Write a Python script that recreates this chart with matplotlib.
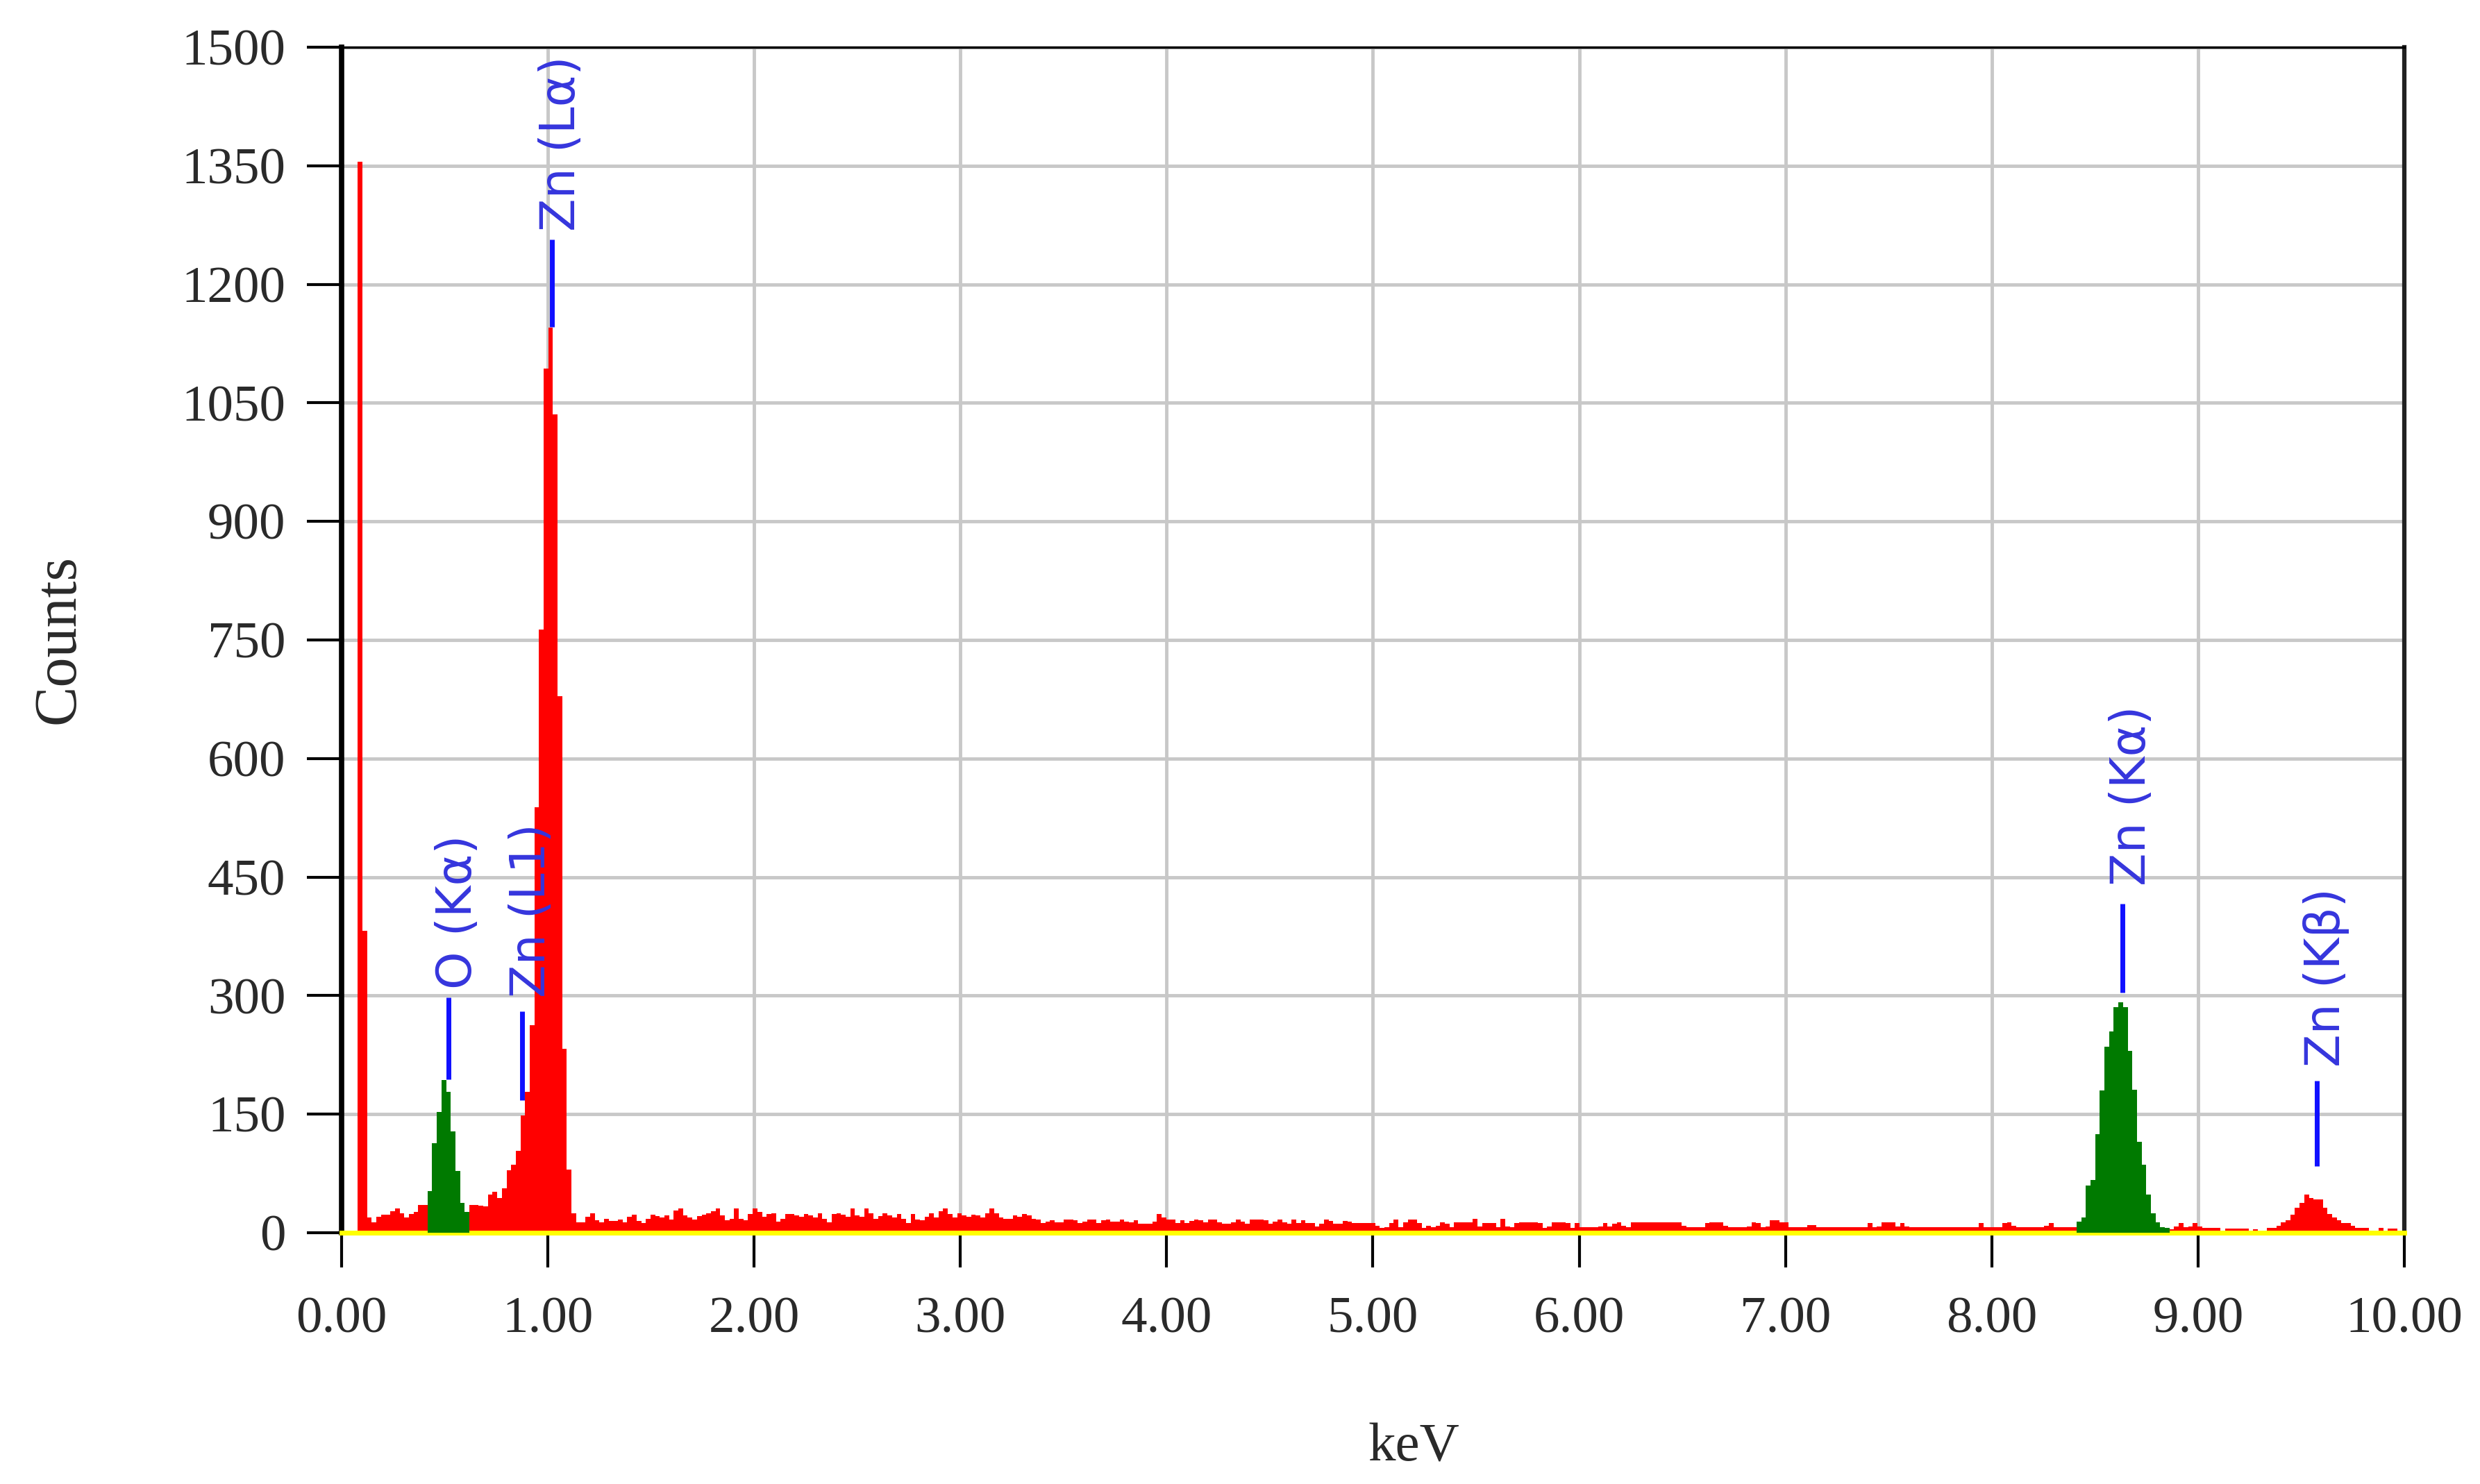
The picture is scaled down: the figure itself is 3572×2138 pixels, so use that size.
import numpy as np
import matplotlib
matplotlib.use("Agg")
import matplotlib.pyplot as plt
from matplotlib.transforms import ScaledTranslation

# ---------------- data ----------------
channel_width_keV = 0.02252          # energy width of one spectrum channel

# counts per channel, 0 - 1.7 keV
counts_0_to_1p7 = [0, 0, 0, 1355, 382, 19, 13, 20, 23, 23,
                   27, 31, 25, 19, 24, 26, 35, 35, 53, 113,
                   153, 193, 178, 128, 78, 38, 26, 35, 35, 34,
                   33, 48, 52, 44, 56, 79, 86, 104, 148, 178,
                   263, 538, 763, 1093, 1145, 1035, 679, 233, 80, 25,
                   13, 13, 20, 25, 16, 13, 18, 15, 15, 17,
                   13, 20, 23, 15, 12, 18, 23, 21, 19, 22,
                   17, 28, 31, 22, 19, 17]
# 1.7 - 3.45 keV
counts_1p7_to_3p45 = [21, 23, 25, 27, 31, 22, 16, 18, 31, 18,
                      16, 24, 31, 26, 20, 24, 25, 14, 18, 24,
                      24, 22, 20, 24, 22, 19, 25, 18, 13, 24,
                      25, 23, 20, 31, 22, 20, 31, 25, 18, 21,
                      25, 22, 19, 24, 18, 12, 24, 17, 16, 20,
                      25, 19, 27, 31, 24, 19, 25, 22, 20, 23,
                      22, 19, 25, 31, 25, 19, 18, 18, 22, 20,
                      24, 22, 18, 17, 12, 14, 16]
# 3.45 - 5.2 keV
counts_3p45_to_5p2 = [13, 13, 17, 17, 16, 12, 14, 17, 17, 12,
                      16, 17, 14, 14, 17, 14, 13, 16, 11, 11,
                      11, 14, 24, 19, 17, 17, 12, 16, 12, 15,
                      17, 16, 13, 17, 17, 13, 11, 11, 13, 17,
                      14, 11, 17, 17, 17, 16, 11, 14, 17, 13,
                      11, 17, 12, 16, 12, 12, 8, 11, 17, 15,
                      11, 11, 15, 14, 12, 12, 12, 12, 12, 9,
                      6, 7, 12, 17, 7, 13, 17, 17]
# 5.2 - 6.95 keV
counts_5p2_to_6p95 = [12, 6, 9, 7, 9, 13, 11, 7, 13, 13,
                      13, 13, 18, 8, 12, 12, 12, 7, 18, 8,
                      7, 12, 13, 13, 13, 13, 12, 6, 8, 13,
                      13, 13, 12, 6, 12, 7, 7, 7, 7, 8,
                      12, 8, 11, 13, 9, 7, 13, 13, 13, 13,
                      13, 13, 13, 13, 13, 13, 13, 9, 7, 7,
                      7, 7, 12, 13, 13, 13, 9, 7, 7, 7,
                      7, 8, 13, 12, 7, 8, 16, 16]
# 6.95 - 8.4 keV
counts_6p95_to_8p4 = [13, 13, 7, 7, 7, 7, 10, 10, 7, 7,
                      7, 7, 7, 7, 7, 7, 7, 7, 7, 12,
                      7, 8, 13, 13, 13, 8, 12, 8, 7, 7,
                      7, 7, 7, 7, 7, 7, 7, 7, 7, 7,
                      7, 7, 7, 12, 7, 7, 7, 7, 12, 13,
                      9, 7, 7, 7, 7, 7, 7, 9, 12, 7,
                      7, 7, 7, 7]
# 8.4 - 10 keV
counts_8p4_to_10 = [14, 19, 60, 67, 125, 180, 235, 255, 285, 292,
                    285, 230, 181, 115, 86, 48, 25, 13, 7, 6,
                    4, 8, 12, 7, 8, 12, 8, 6, 6, 6,
                    6, 1, 5, 5, 5, 5, 5, 3, 4, 1,
                    2, 6, 6, 9, 13, 16, 23, 32, 38, 48,
                    44, 42, 42, 32, 24, 19, 16, 12, 12, 9,
                    6, 6, 6, 3, 2, 6, 2, 5, 5, 1]

# identified-peak windows shown in green (keV)
roi_windows_keV = [(0.41, 0.62), (8.41, 8.86)]

# peak identification markers
peak_labels = ["O (Kα)", "Zn (L1)", "Zn (Lα)", "Zn (Kα)", "Zn (Kβ)"]
peak_keV = [0.52, 0.874, 1.02, 8.632, 9.575]
marker_low = [194, 168, 1146, 304, 84]
marker_high = [298, 280, 1257, 416, 192]
label_start = [308, 298, 1267, 439, 210]

x_ticks = [0, 1, 2, 3, 4, 5, 6, 7, 8, 9, 10]
x_tick_labels = ["0.00", "1.00", "2.00", "3.00", "4.00", "5.00",
                 "6.00", "7.00", "8.00", "9.00", "10.00"]
y_ticks = [0, 150, 300, 450, 600, 750, 900, 1050, 1200, 1350, 1500]
y_tick_labels = [str(v) for v in y_ticks]

# ---------------- figure ----------------
plt.rcParams["font.family"] = ["Liberation Serif", "DejaVu Serif"]

W, H = 3573, 2138
fig = plt.figure(figsize=(W / 100, H / 100), dpi=100)
fig.patch.set_facecolor("white")
ax = fig.add_axes([492 / W, 1 - 1776 / H, (3463 - 492) / W, (1776 - 68) / H])

counts = np.array(counts_0_to_1p7 + counts_1p7_to_3p45 + counts_3p45_to_5p2
                  + counts_5p2_to_6p95 + counts_6p95_to_8p4 + counts_8p4_to_10,
                  dtype=float)
n = len(counts)
edges = (np.arange(n + 1) + 0.5) * channel_width_keV
centers = 0.5 * (edges[:-1] + edges[1:])

ax.stairs(counts, edges, fill=True, color="#ff0000", baseline=0, zorder=2,
          linewidth=0)
for lo, hi in roi_windows_keV:
    idx = np.where((centers > lo) & (centers < hi))[0]
    ax.stairs(counts[idx], edges[idx[0]:idx[-1] + 2], fill=True,
              color="#007a00", baseline=0, zorder=3, linewidth=0)

ax.vlines(peak_keV, marker_low, marker_high, colors="#1010ff", linewidth=5,
          zorder=4)
offset = ScaledTranslation(0.33, 0, fig.dpi_scale_trans)
for lab, x, y in zip(peak_labels, peak_keV, label_start):
    ax.text(x, y, lab, rotation=90, rotation_mode="anchor", ha="left",
            va="baseline", transform=ax.transData + offset,
            fontsize=50, family=["DejaVu Sans"], color="#3535dd", zorder=5)

ax.set_xlim(0, 10)
ax.set_ylim(0, 1500)
ax.set_xticks(x_ticks)
ax.set_xticklabels(x_tick_labels)
ax.set_yticks(y_ticks)
ax.set_yticklabels(y_tick_labels)

ax.grid(True, color="#c8c8c8", linewidth=3.5)
ax.set_axisbelow(True)

ax.tick_params(axis="both", direction="out", length=36, width=3,
               color="black", labelsize=54, labelcolor="#2a2a2a")
ax.tick_params(axis="x", pad=30)
ax.tick_params(axis="y", pad=22)

ax.spines["left"].set_color("black")
ax.spines["left"].set_linewidth(5.5)
ax.spines["right"].set_color("#222222")
ax.spines["right"].set_linewidth(4.5)
ax.spines["top"].set_color("black")
ax.spines["top"].set_linewidth(2.5)
ax.spines["bottom"].set_color("#ffff00")
ax.spines["bottom"].set_linewidth(5)

fig.text(107 / W, 1 - 921 / H, "Counts", rotation=90, rotation_mode="anchor",
         ha="center", va="baseline", fontsize=62, color="#2a2a2a")
fig.text(2036 / W, 1 - 2104 / H, "keV", ha="center", va="baseline",
         fontsize=57, color="#2a2a2a")

fig.savefig("out.png", dpi=100, facecolor="white")
